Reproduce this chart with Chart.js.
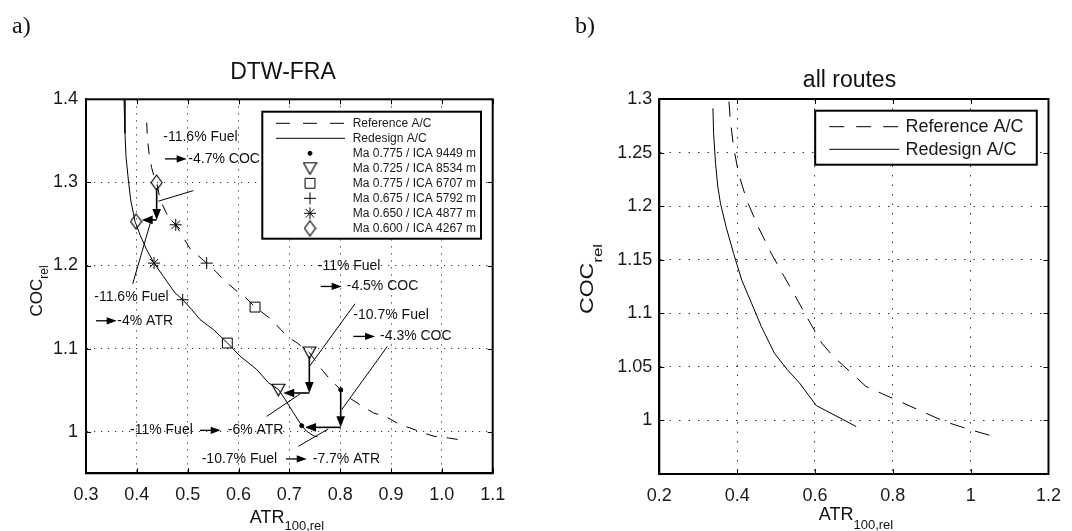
<!DOCTYPE html>
<html><head><meta charset="utf-8">
<script src="https://cdn.jsdelivr.net/npm/chart.js@4.4.1/dist/chart.umd.min.js"></script>
<style>
html,body{margin:0;padding:0;background:#fff;}
#wrap{position:relative;width:1072px;height:531px;overflow:hidden;background:#fff;}
.pane{position:absolute;top:0;width:536px;height:531px;}
#pa{left:0}
#pb{left:536px}
</style></head><body>
<div id="wrap">
<div class="pane" id="pa"><canvas id="ca" width="536" height="531"></canvas></div>
<div class="pane" id="pb"><canvas id="cb" width="536" height="531"></canvas></div>
</div>
<script>
// ================= DATA =================
// Panel a) DTW-FRA
const aXTicks = [0.3,0.4,0.5,0.6,0.7,0.8,0.9,1.0,1.1];
const aXTickLabels = ['0.3','0.4','0.5','0.6','0.7','0.8','0.9','1.0','1.1'];
const aYTicks = [1.0,1.1,1.2,1.3,1.4];
const aYTickLabels = ['1','1.1','1.2','1.3','1.4'];

const aRefATR = [0.4195,0.4205,0.424,0.429,0.434,0.439,0.446,0.459,0.4765,0.49,0.505,0.5374,0.555,0.572,0.595,0.613,0.6325,0.65,0.667,0.683,0.697,0.715,0.7393,0.754,0.765,0.78,0.801,0.82,0.84,0.866,0.89,0.918,0.94,0.964,0.985,1.013,1.042];
const aRefCOC = [1.372,1.355,1.335,1.318,1.307,1.300,1.279,1.262,1.249,1.235,1.220,1.203,1.193,1.182,1.170,1.162,1.150,1.142,1.134,1.123,1.114,1.107,1.0955,1.083,1.074,1.063,1.0506,1.040,1.032,1.0225,1.018,1.0085,1.004,0.9985,0.9945,0.9925,0.9897];
const aRedATR = [0.3748,0.3767,0.3787,0.3833,0.3879,0.3931,0.3964,0.4062,0.4193,0.4338,0.4521,0.4751,0.4902,0.5079,0.5243,0.5505,0.578,0.603,0.6357,0.6587,0.6784,0.6915,0.7079,0.7243,0.7341,0.7472,0.755];
const aRedCOC = [1.40,1.359,1.331,1.303,1.279,1.263,1.253,1.237,1.219,1.203,1.187,1.167,1.159,1.147,1.135,1.123,1.107,1.091,1.075,1.059,1.051,1.039,1.023,1.0074,1.0006,0.9953,0.994];

const markerLabels = ['Ma 0.775 / ICA 9449 m','Ma 0.725 / ICA 8534 m','Ma 0.775 / ICA 6707 m','Ma 0.675 / ICA 5792 m','Ma 0.650 / ICA 4877 m','Ma 0.600 / ICA 4267 m'];
const refMarkATR = [0.801,0.7393,0.6325,0.5374,0.4765,0.439];
const refMarkCOC = [1.0506,1.0954,1.150,1.2029,1.249,1.2998];
const redMarkATR = [0.7243,0.6783,0.578,0.4902,0.4338,0.3984];
const redMarkCOC = [1.0073,1.0506,1.1067,1.1588,1.2029,1.2529];

// annotations (data coordinates: ATR, COC)
const aNoteText = ['-11.6% Fuel','-4.7% COC','-11.6% Fuel','-4% ATR','-11% Fuel','-4.5% COC','-10.7% Fuel','-4.3% COC','-11% Fuel','-6% ATR','-10.7% Fuel','-7.7% ATR'];
const aNoteATR  = [0.452,0.5013,0.3163,0.3616,0.7558,0.8129,0.8259,0.8784,0.3866,0.5788,0.5276,0.746];
const aNoteCOC  = [1.355,1.3283,1.1615,1.1335,1.1988,1.1748,1.1407,1.1147,1.0017,1.0017,0.9673,0.9673];
const aSmallArrows = [[0.4554,1.3283,0.4981,1.3283],[0.3197,1.1335,0.3604,1.1335],[0.7617,1.1748,0.8030,1.1748],[0.8259,1.1147,0.8686,1.1147],[0.5243,1.0017,0.565,1.0017],[0.6935,0.9673,0.7342,0.9673]];
const aBigArrows = [[0.439,1.293,0.439,1.2549],[0.439,1.2549,0.4096,1.2549],[0.7393,1.0906,0.7393,1.0466],[0.7393,1.0466,0.688,1.0466],[0.801,1.0498,0.801,1.0053],[0.801,1.0053,0.7309,1.0053]];
const aLeaders = [[0.4422,1.2774,0.5111,1.2901],[0.4279,1.2541,0.3919,1.178],[0.7395,1.0786,0.8292,1.154],[0.803,1.0266,0.8927,1.1026],[0.721,1.0454,0.6555,1.0185],[0.7767,1.0034,0.7177,0.9825]];

// Panel b) all routes
const bXTicks = [0.2,0.4,0.6,0.8,1.0,1.2];
const bXTickLabels = ['0.2','0.4','0.6','0.8','1','1.2'];
const bYTicks = [1.0,1.05,1.1,1.15,1.2,1.25,1.3];
const bYTickLabels = ['1','1.05','1.1','1.15','1.2','1.25','1.3'];
const bRefATR = [0.379,0.3824,0.3908,0.4034,0.4244,0.4538,0.4874,0.521,0.5546,0.5882,0.6176,0.6471,0.6849,0.7311,0.7983,0.8655,0.9328,1.0,1.0655];
const bRefCOC = [1.2975,1.2804,1.2555,1.2307,1.2058,1.1809,1.156,1.1343,1.1125,1.0907,1.0721,1.0596,1.0472,1.0317,1.0208,1.0099,0.999,0.9912,0.9844];
const bRedATR = [0.3378,0.3395,0.3445,0.3504,0.3571,0.3714,0.3908,0.4118,0.437,0.4622,0.4958,0.5294,0.5605,0.6034,0.7059];
const bRedCOC = [1.2913,1.268,1.240,1.218,1.2027,1.1809,1.156,1.131,1.1094,1.0876,1.0627,1.0472,1.0348,1.0139,0.9943];

// ================= STYLE HELPERS =================
const SANS = '"Liberation Sans", Arial, Helvetica, sans-serif';
const INK = '#000';
function pts(xs, ys){ return xs.map((x,i)=>({x:x, y:ys[i]})); }

function makeDiamond(w,h){
  const c=document.createElement('canvas'); c.width=w+2; c.height=h+2;
  const g=c.getContext('2d'); g.strokeStyle=INK; g.lineWidth=1.2;
  g.beginPath(); g.moveTo(1+w/2,1); g.lineTo(1+w,1+h/2); g.lineTo(1+w/2,1+h); g.lineTo(1,1+h/2); g.closePath(); g.stroke();
  return c;
}
function makeTriDown(w,h){
  const c=document.createElement('canvas'); c.width=w+2; c.height=h+2;
  const g=c.getContext('2d'); g.strokeStyle=INK; g.lineWidth=1.2;
  g.beginPath(); g.moveTo(1,1.5); g.lineTo(1+w,1.5); g.lineTo(1+w/2,1+h); g.closePath(); g.stroke();
  return c;
}
const diamondImg = makeDiamond(11,15);
const triImg = makeTriDown(13,12);
const markerStyles = [
  {pointStyle:'circle', radius:2, fill:INK},
  {pointStyle:triImg, radius:7, fill:'rgba(0,0,0,0)'},
  {pointStyle:'rect', radius:7, fill:'rgba(0,0,0,0)'},
  {pointStyle:'cross', radius:6, fill:'rgba(0,0,0,0)'},
  {pointStyle:'star', radius:6, fill:'rgba(0,0,0,0)'},
  {pointStyle:diamondImg, radius:7, fill:'rgba(0,0,0,0)'}
];

function axisCfg(min,max,tickVals,tickLbls,o){
  return {
    type:'linear', min:min, max:max,
    afterBuildTicks: s=>{ s.ticks = tickVals.map(v=>({value:v})); },
    afterFit: s=>{ if(o.w!=null) s.width=o.w; if(o.h!=null) s.height=o.h; },
    grid:{color:'#333', lineWidth:1, drawTicks:false},
    border:{display:true, color:'#000', width:2, dash:o.dash},
    ticks:{autoSkip:false, maxRotation:0, minRotation:0, padding:o.pad, color:'#1a1a1a',
      font:{family:SANS, size:18}, callback:(v,i)=>tickLbls[i]}
  };
}

function arrow(ctx,x1,y1,x2,y2,L,W,lw){
  const a=Math.atan2(y2-y1,x2-x1), c=Math.cos(a), s=Math.sin(a);
  const bx=x2-L*c, by=y2-L*s;
  ctx.lineWidth=lw; ctx.beginPath(); ctx.moveTo(x1,y1); ctx.lineTo(bx+c,by+s); ctx.stroke();
  ctx.beginPath(); ctx.moveTo(x2,y2); ctx.lineTo(bx+W*s,by-W*c); ctx.lineTo(bx-W*s,by+W*c); ctx.closePath(); ctx.fill();
}

function drawMarker(ctx, st, x, y){
  ctx.save();
  ctx.strokeStyle=INK; ctx.fillStyle=st.fill; ctx.lineWidth=1;
  if (Chart.helpers && Chart.helpers.drawPoint) {
    Chart.helpers.drawPoint(ctx, {pointStyle:st.pointStyle, radius:st.radius, rotation:0, borderWidth:1}, x, y);
  }
  ctx.restore();
}

// per-chart decoration config (layout only)
const deco = {
  ca: {
    letter:{text:'a)', x:12, y:33},
    title:{text:'DTW-FRA', cx:283, by:78.5},
    xlab:{cx:287, by:522.5, sby:530},
    ylab:{cy:291, bx:42, sdx:6, size:17, ssize:12, stretch:1.0},
    legend:{rightGap:11.7, topGap:12.4, w:218.7, h:127, row0:11.6, step:15, tx:90.4, x0:13.7, x1:82.7, mx:47.7, font:12, bw:2},
    notes:true, gridTick:5
  },
  cb: {
    letter:{text:'b)', x:39, y:33},
    title:{text:'all routes', cx:313.5, by:87.3},
    xlab:{cx:320, by:520, sby:529},
    ylab:{cy:279, bx:56.7, sdx:9, size:18.5, ssize:13.5, stretch:1.25},
    legend:{rightGap:11.7, topGap:11.7, w:221.6, h:54, row0:16, step:22.6, tx:90.3, x0:14, x1:84, mx:49, font:18, bw:2},
    notes:false, gridTick:5
  }
};

const decoPlugin = {
  id:'decoPlugin',
  afterDatasetsDraw(chart){
    const cfg = deco[chart.canvas.id]; if(!cfg) return;
    const ctx=chart.ctx, ca=chart.chartArea, xs=chart.scales.x, ys=chart.scales.y;
    const X=v=>xs.getPixelForValue(v), Y=v=>ys.getPixelForValue(v);
    ctx.save();
    ctx.strokeStyle=INK; ctx.fillStyle=INK;
    if (cfg.notes) {
      ctx.lineWidth=1;
      aLeaders.forEach(l=>{ ctx.beginPath(); ctx.moveTo(X(l[0]),Y(l[1])); ctx.lineTo(X(l[2]),Y(l[3])); ctx.stroke(); });
      aBigArrows.forEach(a=>arrow(ctx,X(a[0]),Y(a[1]),X(a[2]),Y(a[3]),11,4.3,1.6));
      aSmallArrows.forEach(a=>arrow(ctx,X(a[0]),Y(a[1]),X(a[2]),Y(a[3]),10,3.6,1.3));
      ctx.font='14px '+SANS; ctx.textAlign='left'; ctx.textBaseline='middle'; ctx.fillStyle='#111';
      aNoteText.forEach((t,i)=>ctx.fillText(t, X(aNoteATR[i]), Y(aNoteCOC[i])));
    }
    // legend
    const L=cfg.legend;
    const bx=ca.right-L.rightGap-L.w, by=ca.top+L.topGap;
    ctx.fillStyle='#fff'; ctx.fillRect(bx,by,L.w,L.h);
    ctx.lineWidth=L.bw; ctx.strokeStyle='#000'; ctx.strokeRect(bx,by,L.w,L.h);
    ctx.font=L.font+'px '+SANS; ctx.textAlign='left'; ctx.textBaseline='middle';
    chart.data.datasets.forEach((ds,i)=>{
      const yy=by+L.row0+i*L.step;
      if (ds.markerIndex==null) {
        ctx.save(); ctx.setLineDash(ds.legendDash||[]); ctx.lineWidth=1; ctx.strokeStyle=INK;
        ctx.beginPath(); ctx.moveTo(bx+L.x0,yy); ctx.lineTo(bx+L.x1,yy); ctx.stroke(); ctx.restore();
      } else {
        drawMarker(ctx, markerStyles[ds.markerIndex], bx+L.mx, yy);
      }
      ctx.fillStyle='#1a1a1a'; ctx.fillText(ds.label, bx+L.tx, yy+0.5);
    });
    ctx.restore();
  },
  afterDraw(chart){
    const cfg = deco[chart.canvas.id]; if(!cfg) return;
    const ctx=chart.ctx, ca=chart.chartArea, xs=chart.scales.x, ys=chart.scales.y;
    ctx.save();
    // inner tick marks
    ctx.strokeStyle='#000'; ctx.lineWidth=1; const t=cfg.gridTick;
    xs.ticks.forEach(tk=>{ const x=Math.round(xs.getPixelForValue(tk.value))+0.5;
      ctx.beginPath(); ctx.moveTo(x,ca.bottom); ctx.lineTo(x,ca.bottom-t); ctx.moveTo(x,ca.top); ctx.lineTo(x,ca.top+t); ctx.stroke(); });
    ys.ticks.forEach(tk=>{ const y=Math.round(ys.getPixelForValue(tk.value))+0.5;
      ctx.beginPath(); ctx.moveTo(ca.left,y); ctx.lineTo(ca.left+t,y); ctx.moveTo(ca.right,y); ctx.lineTo(ca.right-t,y); ctx.stroke(); });
    // frame
    ctx.lineWidth=2; ctx.strokeRect(ca.left,ca.top,ca.right-ca.left,ca.bottom-ca.top);
    // title
    ctx.fillStyle='#111'; ctx.textBaseline='alphabetic';
    ctx.font='23px '+SANS; ctx.textAlign='center'; ctx.fillText(cfg.title.text, cfg.title.cx, cfg.title.by);
    // panel letter
    ctx.font='24px "Liberation Serif", "Times New Roman", serif'; ctx.textAlign='left';
    ctx.fillText(cfg.letter.text, cfg.letter.x, cfg.letter.y);
    // x label ATR_100,rel
    ctx.font='18px '+SANS; const w1=ctx.measureText('ATR').width;
    ctx.font='13px '+SANS; const w2=ctx.measureText('100,rel').width;
    const x0=cfg.xlab.cx-(w1+w2)/2;
    ctx.textAlign='left';
    ctx.font='18px '+SANS; ctx.fillText('ATR', x0, cfg.xlab.by);
    ctx.font='13px '+SANS; ctx.fillText('100,rel', x0+w1, cfg.xlab.sby);
    // y label COC_rel (rotated)
    const yl=cfg.ylab;
    ctx.save(); ctx.translate(yl.bx, yl.cy); ctx.rotate(-Math.PI/2); ctx.scale(yl.stretch,1);
    ctx.font=yl.size+'px '+SANS; const v1=ctx.measureText('COC').width;
    ctx.font=yl.ssize+'px '+SANS; const v2=ctx.measureText('rel').width;
    const s0=-(v1+v2)/2;
    ctx.font=yl.size+'px '+SANS; ctx.fillText('COC', s0, 0);
    ctx.font=yl.ssize+'px '+SANS; ctx.fillText('rel', s0+v1, yl.sdx);
    ctx.restore();
    ctx.restore();
  }
};

function baseOptions(layoutPad){
  return {
    responsive:false, animation:false, events:[],
    layout:{padding:layoutPad},
    plugins:{legend:{display:false}, title:{display:false}, tooltip:{enabled:false}},
    elements:{line:{tension:0}}
  };
}

// ---------- Chart a ----------
const aDatasets = [
  {label:'Reference A/C', data:pts(aRefATR,aRefCOC), showLine:true, borderColor:INK, borderWidth:1, borderDash:[11,10], legendDash:[14,13], pointRadius:0},
  {label:'Redesign A/C', data:pts(aRedATR,aRedCOC), showLine:true, borderColor:INK, borderWidth:1, pointRadius:0, legendDash:[]}
];
markerLabels.forEach((lab,i)=>{
  const st=markerStyles[i];
  aDatasets.push({label:lab, markerIndex:i,
    data:[{x:refMarkATR[i],y:refMarkCOC[i]},{x:redMarkATR[i],y:redMarkCOC[i]}],
    showLine:false, pointStyle:st.pointStyle, pointRadius:st.radius, pointBorderColor:INK,
    pointBackgroundColor:st.fill, pointBorderWidth:1});
});
const optA = baseOptions({left:0, top:99.3, right:43.3, bottom:0});
optA.scales = {
  x: axisCfg(0.3,1.1,aXTicks,aXTickLabels,{h:57.7, pad:11, dash:[1.2,5.8]}),
  y: axisCfg(0.95,1.4,aYTicks,aYTickLabels,{w:86, pad:8, dash:[1.2,5.8]})
};
new Chart(document.getElementById('ca'), {type:'scatter', data:{datasets:aDatasets}, options:optA, plugins:[decoPlugin]});

// ---------- Chart b ----------
const bDatasets = [
  {label:'Reference A/C', data:pts(bRefATR,bRefCOC), showLine:true, borderColor:INK, borderWidth:1, borderDash:[15,11], legendDash:[15,12], pointRadius:0},
  {label:'Redesign A/C', data:pts(bRedATR,bRedCOC), showLine:true, borderColor:INK, borderWidth:1, pointRadius:0, legendDash:[]}
];
const optB = baseOptions({left:0, top:99, right:16, bottom:0});
optB.scales = {
  x: axisCfg(0.2,1.2,bXTicks,bXTickLabels,{h:57, pad:11, dash:[1.5,8]}),
  y: axisCfg(0.95,1.3,bYTicks,bYTickLabels,{w:123.3, pad:7, dash:[1.5,8]})
};
new Chart(document.getElementById('cb'), {type:'scatter', data:{datasets:bDatasets}, options:optB, plugins:[decoPlugin]});
</script>
</body></html>
